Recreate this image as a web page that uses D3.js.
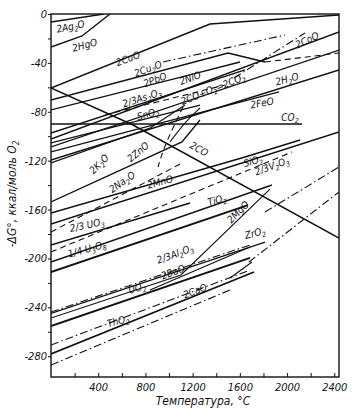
<!DOCTYPE html>
<html>
<head>
<meta charset="utf-8">
<script src="https://cdn.jsdelivr.net/npm/d3@7"></script>
<style>
body { margin: 0; background: #fff; }
text { font-family: "Liberation Sans Narrow", "DejaVu Sans Condensed", sans-serif; font-style: italic; fill: #111; }
</style>
</head>
<body>
<svg id="chart" width="364" height="411"></svg>
<script>
var xTicks = d3.range(200, 2401, 200);
var yTicks = d3.range(0, -281, -20);

// oxide lines, points are [temperature °C, dG kcal/mol O2]
var ag2o = [[0,-6.5],[449,0]];
var hgo = [[0,-27],[263,-18],[500,0]];
var cuo = [[0,-60.5],[1347,-8.2],[2440,-0.8]];
var cu2o = [[0,-70.4],[1500,-31.9],[1813,-39.3]];
var pbo = [[0,-78.5],[1110,-51.5],[1601,-39.3]];
var as2o3 = [[457,-82.6],[1475,-58.1]];
var nio = [[0,-97.4],[1644,-45.8]];
var coo = [[0,-102.3],[2440,-14.7]];
var cooDash = [[1813,-39.3],[2440,-31.9]];
var upperDd1 = [[949,-39.3],[1983,-17.2]];
var upperDd2 = [[1550,-52.4],[2152,-15.5]];
var sno2 = [[0,-105.5],[1262,-74.5]];
var co2co2 = [[0,-108.8],[2440,-29.5]];
var feo = [[0,-112.9],[1932,-63.8]];
var h2o = [[0,-119.5],[2440,-45.8]];
var co2 = [[0,-90],[2126,-90]];
var co = [[0,-60.5],[695,-90.8],[2440,-183.3]];
var zno = [[0,-121.9],[839,-93.3],[1135,-74.5]];
var znCurve = [[1118,-76.1],[1025,-94.9],[949,-111.3],[907,-125.2]];
var mgCurve = [[1262,-76.9],[1135,-88.4],[1008,-104.7]];
var k2o = [[0,-153.8],[1110,-104.7],[1262,-86.7]];
var na2o = [[0,-178.4],[1110,-121.9]];
var mno = [[0,-162.8],[1644,-117],[2110,-103.1]];
var sio2 = [[0,-171.8],[2440,-96.5]];
var uo3 = [[0,-189],[1178,-154.6]];
var v2o3 = [[0,-194.7],[2042,-112.9]];
var tio2 = [[0,-202.9],[1872,-139.9]];
var u3o8 = [[0,-211.1],[1669,-156.3]];
var al2o3 = [[0,-243.8],[1686,-189]];
var zro2 = [[0,-245],[1813,-186.6]];
var mgo = [[0,-248.7],[1101,-213.5],[1855,-143.2]];
var bao = [[839,-225.8],[1686,-190.6]];
var uo2 = [[0,-255.3],[1686,-199.6]];
var lowDd1 = [[0,-270.8],[1686,-209.5]];
var tho2 = [[0,-278.2],[1720,-211.1]];
var caoHigh = [[1517,-216],[1703,-202.9]];
var lowDd2 = [[0,-287.2],[1517,-225.8]];
var rightDd1 = [[1813,-162],[2440,-125.2]];
var rightDd2 = [[1677,-202.9],[2440,-145.6]];

// label text ({} = subscript), [T, dG] of its centre, rotation
var labelText = ["2Ag{2}O","2HgO","2CuO","2Cu{2}O","2PbO","2/3As{2}O{3}","2NiO","2CoO","2CO+O{2}=2CO{2}",
  "2H{2}O","2FeO","CO{2}","SnO{2}","2CO","2K{2}O","2ZnO","2Na{2}O","2MnO","SiO{2}","2/3V{2}O{3}",
  "TiO{2}","2MgO","ZrO{2}","2/3 UO{3}","1/4 U{3}O{8}","2/3Al{2}O{3}","2BaO","UO{2}","2CaO","ThO{2}"];
var labelT = [165,285,652,822,881,771,1178,2169,1372,1999,1788,2025,822,1254,407,737,602,923,1711,1872,
  1406,1584,1728,305,305,1051,1034,729,1220,568];
var labelG = [-10.2,-25.4,-36.5,-44.8,-53.8,-68.7,-52.4,-21.3,-61.4,-53.2,-72.8,-84.3,-81.8,-110.5,-122.7,
  -112.9,-137.5,-137.5,-120.3,-124.4,-152.2,-162,-179.2,-172.6,-192.3,-196.4,-211.1,-224.2,-226.6,-251.2];
var labelRot = [-12,-15,-20,-20,-20,-18,-20,-25,-22,-15,-10,0,-15,30,-45,-40,-35,-15,-15,-20,
  -15,-45,-15,-12,-15,-20,-20,-15,-20,-15];

var svg = d3.select("#chart");
var plotLeft = 51, plotRight = 339, plotTop = 14, plotBottom = 377;

var x = d3.scaleLinear().domain([0, 2440]).range([plotLeft, plotRight]);
var y = d3.scaleLinear().domain([-297, 0]).range([plotBottom, plotTop]);

var straight = d3.line().x(function(d){ return x(d[0]); }).y(function(d){ return y(d[1]); });
var smooth = d3.line().x(function(d){ return x(d[0]); }).y(function(d){ return y(d[1]); }).curve(d3.curveBasis);

var SOLID = null, DASH = "6,4", DASHDOT = "8,3,1.5,3";
var series = [
  [ag2o, SOLID, 1.4], [hgo, SOLID, 1.4], [cuo, SOLID, 1.5], [cu2o, SOLID, 1.5], [pbo, SOLID, 1.4],
  [as2o3, DASH, 1.1], [nio, SOLID, 1.3], [coo, SOLID, 1.3], [cooDash, DASH, 1.1], [upperDd1, DASHDOT, 1.1],
  [upperDd2, DASHDOT, 1.1], [sno2, SOLID, 1.2], [co2co2, SOLID, 1.3], [feo, SOLID, 1.3], [h2o, SOLID, 1.5],
  [co2, SOLID, 1.5], [co, SOLID, 1.5], [zno, SOLID, 1.2], [k2o, SOLID, 1.4], [na2o, DASH, 1.1],
  [mno, SOLID, 1.5], [sio2, SOLID, 1.5], [uo3, SOLID, 1.4], [v2o3, DASH, 1.1], [tio2, SOLID, 1.4],
  [u3o8, SOLID, 1.9], [al2o3, DASHDOT, 1.1], [zro2, SOLID, 1.2], [mgo, SOLID, 1.1], [bao, SOLID, 1.2],
  [uo2, SOLID, 1.9], [lowDd1, DASHDOT, 1.1], [tho2, SOLID, 1.7], [caoHigh, SOLID, 1.1], [lowDd2, DASHDOT, 1.1],
  [rightDd1, DASHDOT, 1.1], [rightDd2, DASHDOT, 1.1]
];

svg.append("clipPath").attr("id", "clip").append("rect")
  .attr("x", plotLeft).attr("y", plotTop)
  .attr("width", plotRight - plotLeft).attr("height", plotBottom - plotTop);
var plot = svg.append("g").attr("clip-path", "url(#clip)");

series.forEach(function(s){
  plot.append("path")
    .attr("d", straight(s[0]))
    .attr("fill", "none")
    .attr("stroke", "#111")
    .attr("stroke-width", s[2])
    .attr("stroke-dasharray", s[1]);
});

// curved lines
plot.append("path").attr("d", smooth(znCurve)).attr("fill", "none")
  .attr("stroke", "#111").attr("stroke-width", 1.1).attr("stroke-dasharray", DASH);
plot.append("path").attr("d", smooth(mgCurve)).attr("fill", "none")
  .attr("stroke", "#111").attr("stroke-width", 1.1);

// frame
svg.append("rect")
  .attr("x", plotLeft).attr("y", plotTop)
  .attr("width", plotRight - plotLeft).attr("height", plotBottom - plotTop)
  .attr("fill", "none").attr("stroke", "#111").attr("stroke-width", 1.4);

var xAxis = d3.axisBottom(x)
  .tickValues(xTicks)
  .tickSize(-4)
  .tickPadding(6)
  .tickFormat(function(d){ return d % 400 == 0 ? d : ""; });

svg.append("g")
  .attr("transform", "translate(0," + plotBottom + ")")
  .call(xAxis)
  .call(function(g){ g.select(".domain").remove(); })
  .selectAll("text")
  .attr("font-size", 11)
  .attr("font-family", null);

var yAxis = d3.axisLeft(y)
  .tickValues(yTicks)
  .tickSize(3)
  .tickPadding(1)
  .tickFormat(function(d){ return d % 40 == 0 ? (d == 0 ? "0" : "-" + Math.abs(d)) : ""; });

svg.append("g")
  .attr("transform", "translate(" + plotLeft + ",0)")
  .call(yAxis)
  .call(function(g){ g.select(".domain").remove(); })
  .selectAll("text")
  .attr("font-size", 11)
  .attr("font-family", null);

svg.selectAll(".tick line").attr("stroke", "#111");

// labels
function addLabel(str, tx, ty, rot){
  var t = svg.append("text")
    .attr("font-size", 10)
    .attr("text-anchor", "middle")
    .attr("transform", "translate(" + x(tx) + "," + y(ty) + ")rotate(" + rot + ")")
    .attr("dy", "0.35em");
  var parts = str.split(/(\{[^}]*\})/);
  var down = false;
  parts.forEach(function(p){
    if(p === "") return;
    if(p[0] == "{"){
      t.append("tspan").attr("font-size", 7).attr("dy", 2.5).text(p.slice(1, -1));
      down = true;
    }else{
      t.append("tspan").attr("dy", down ? -2.5 : null).text(p);
      down = false;
    }
  });
}
for(var i = 0; i < labelText.length; i++){
  addLabel(labelText[i], labelT[i], labelG[i], labelRot[i]);
}

// axis titles
svg.append("text")
  .attr("x", 203)
  .attr("y", 405)
  .attr("text-anchor", "middle")
  .attr("font-size", 12)
  .text("Температура, °С");

var yt = svg.append("text")
  .attr("text-anchor", "middle")
  .attr("font-size", 12)
  .attr("transform", "translate(16,194)rotate(-90)");
yt.append("tspan").text("-ΔG°, ккал/моль O");
yt.append("tspan").attr("font-size", 8).attr("dy", 2.5).text("2");
</script>
</body>
</html>
